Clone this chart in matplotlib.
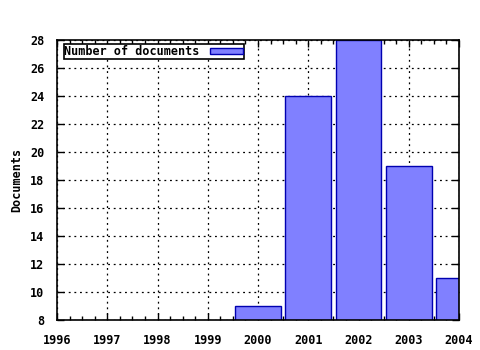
import numpy as np
import matplotlib.pyplot as plt
from matplotlib.ticker import MultipleLocator

# --------------------------------------------------
# Data
# --------------------------------------------------
years = [2000, 2001, 2002, 2003, 2004]
documents = [9, 24, 28, 19, 11]

xticks = [1996, 1997, 1998, 1999, 2000, 2001, 2002, 2003, 2004]
yticks = [8, 10, 12, 14, 16, 18, 20, 22, 24, 26, 28]

font = {"family": "DejaVu Sans Mono", "weight": "bold", "size": 8.5}

fig = plt.figure(figsize=(4.8, 3.5), dpi=100)
ax = fig.add_axes([57 / 480, 30 / 350, 402 / 480, 280 / 350])

ax.bar(years, documents, width=0.91, bottom=0,
       color="#8080ff", edgecolor="#0000b0", linewidth=1.0,
       label="Number of documents", zorder=2)

ax.set_xlim(1996, 2004)
ax.set_ylim(8, 28)
ax.set_xticks(xticks)
ax.set_yticks(yticks)
ax.set_xticklabels([str(x) for x in xticks], fontdict=font)
ax.set_yticklabels([str(y) for y in yticks], fontdict=font)
ax.xaxis.set_minor_locator(MultipleLocator(0.25))

ax.tick_params(axis="y", which="major", direction="in", length=5,
               width=1, right=True, pad=9)
ax.tick_params(axis="x", which="major", direction="in", length=5,
               width=1, top=True, pad=10)
ax.tick_params(axis="x", which="minor", direction="in", length=3,
               width=1, top=True)

ax.grid(True, which="major", color="black", linestyle=(0, (1.5, 3)),
        linewidth=0.9, zorder=1)
ax.set_axisbelow(True)
for s in ax.spines.values():
    s.set_linewidth(1.2)
    s.set_zorder(3)

ax.set_ylabel("Documents", fontdict=font, labelpad=5)

leg = ax.legend(loc="upper left", bbox_to_anchor=(0.017, 0.984),
                prop={"family": "DejaVu Sans Mono", "weight": "bold",
                      "size": 8.5},
                markerfirst=False, fancybox=False, framealpha=1,
                edgecolor="black", borderpad=0.05, handlelength=2.8,
                handleheight=0.5, borderaxespad=0, handletextpad=0.9)
leg.get_frame().set_linewidth(1.2)

fig.savefig("out.png", dpi=100)
